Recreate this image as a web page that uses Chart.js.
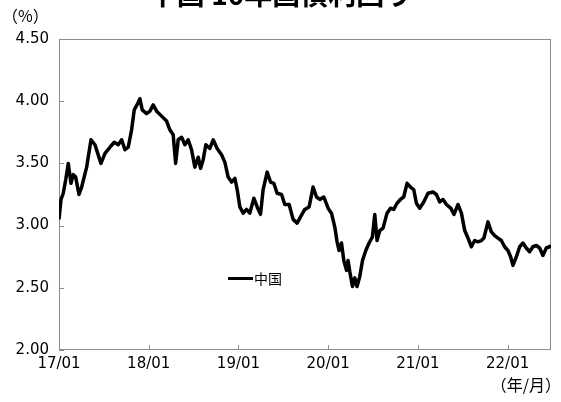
<!DOCTYPE html>
<html>
<head>
<meta charset="utf-8">
<script src="https://cdn.jsdelivr.net/npm/chart.js@4.4.1/dist/chart.umd.min.js"></script>
<style>
  html, body { margin: 0; padding: 0; background: #fff; overflow: hidden; }
  #wrap { position: relative; width: 561px; height: 402px; overflow: hidden; }
  #c { position: absolute; left: 0; top: 0; }
  .txt { position: absolute; color: #000; white-space: nowrap; font-family: "Noto Sans CJK JP", "DejaVu Sans", sans-serif; }
  #legend { position: absolute; left: 228px; top: 268px; display: flex; align-items: center; font-family: "Noto Sans CJK JP", sans-serif; font-size: 14px; }
  #legend .ln { width: 25px; height: 3px; background: #000; margin-right: 1px; }
</style>
</head>
<body>
<div id="wrap">
  <canvas id="c" width="561" height="402"></canvas>
  <div class="txt" style="left:0;width:561px;text-align:center;top:-27px;font-size:28px;font-weight:bold">中国 10年国債利回り</div>
  <div class="txt" style="left:2px;top:3px;font-size:16px">（%）</div>
  <div class="txt" style="right:0px;top:372px;font-size:16px">（年/月）</div>
  <div id="legend"><span class="ln"></span><span id="legendText"></span></div>
</div>
<script>
// series name
const seriesName = "中国";

// months since 2017/01, and 10y yield (%)
const months = [
  0, 0.27, 0.57, 0.9, 1.24, 1.6, 1.91, 2.23, 2.67, 3.03, 3.7, 4.28, 4.81, 5.61, 6.15, 6.82,
  7.39, 7.92, 8.38, 8.82, 9.26, 9.71, 10.06, 10.52, 10.82, 11.13, 11.72, 12.16, 12.6, 13.06,
  13.72, 14.39, 14.83, 15.27, 15.6, 15.94, 16.4, 16.84, 17.28, 17.73, 18.17, 18.62, 18.94,
  19.28, 19.64, 20.18, 20.62, 21.15, 21.74, 22.18, 22.62, 23.08, 23.52, 23.83, 24.19, 24.63,
  25.08, 25.52, 26.06, 26.5, 26.95, 27.3, 27.84, 28.29, 28.73, 29.17, 29.76, 30.2, 30.78,
  31.31, 31.85, 32.3, 32.87, 33.45, 33.98, 34.44, 34.88, 35.41, 35.99, 36.44, 36.88, 37.19,
  37.46, 37.78, 38.09, 38.45, 38.66, 38.89, 39.25, 39.56, 39.86, 40.22, 40.59, 41.03, 41.47,
  41.92, 42.23, 42.54, 42.9, 43.34, 43.87, 44.33, 44.77, 45.21, 45.66, 46.1, 46.55, 47.0,
  47.44, 47.8, 48.24, 48.78, 49.35, 50.02, 50.47, 50.92, 51.36, 51.81, 52.39, 52.83, 53.36,
  53.82, 54.26, 54.7, 55.15, 55.59, 56.03, 56.49, 56.83, 57.37, 57.82, 58.27, 58.71, 59.16,
  59.6, 60.04, 60.4, 60.71, 61.17, 61.61, 62.05, 62.5, 62.94, 63.38, 63.84, 64.28, 64.72,
  65.17, 65.61, 65.8
];
const yields = [
  3.05, 3.21, 3.26, 3.37, 3.50, 3.34, 3.41, 3.39, 3.25, 3.31, 3.47, 3.69, 3.65, 3.50, 3.58, 3.63,
  3.67, 3.65, 3.69, 3.61, 3.63, 3.77, 3.93, 3.98, 4.02, 3.93, 3.90, 3.92, 3.97, 3.92,
  3.88, 3.84, 3.77, 3.73, 3.50, 3.69, 3.71, 3.65, 3.69, 3.61, 3.47, 3.55, 3.46,
  3.53, 3.65, 3.62, 3.69, 3.62, 3.57, 3.51, 3.39, 3.35, 3.38, 3.29, 3.15, 3.10,
  3.13, 3.10, 3.22, 3.15, 3.09, 3.29, 3.43, 3.35, 3.34, 3.26, 3.25, 3.17, 3.17,
  3.05, 3.02, 3.07, 3.13, 3.15, 3.31, 3.23, 3.21, 3.23, 3.14, 3.10, 2.99, 2.87,
  2.80, 2.86, 2.72, 2.64, 2.72, 2.63, 2.51, 2.58, 2.51, 2.59, 2.72, 2.80, 2.86,
  2.91, 3.09, 2.88, 2.96, 2.98, 3.10, 3.14, 3.13, 3.18, 3.21, 3.23, 3.34, 3.31,
  3.29, 3.18, 3.14, 3.19, 3.26, 3.27, 3.25, 3.19, 3.21, 3.17, 3.14, 3.09, 3.17,
  3.10, 2.96, 2.90, 2.83, 2.88, 2.87, 2.88, 2.90, 3.03, 2.95, 2.92, 2.90, 2.88,
  2.83, 2.80, 2.75, 2.68, 2.75, 2.83, 2.86, 2.82, 2.79, 2.83, 2.84, 2.82, 2.76,
  2.82, 2.83, 2.84
];

// axis ticks
const xTickMonths = [0, 12, 24, 36, 48, 60];
const xTickLabels = ["17/01", "18/01", "19/01", "20/01", "21/01", "22/01"];
const yTicks = [2.0, 2.5, 3.0, 3.5, 4.0, 4.5];

document.getElementById("legendText").textContent = seriesName;

const tickFont = { family: "DejaVu Sans", size: 15 };
const frameColor = "#8c8c8c";

// plot box and the short inward tick marks
const framePlugin = {
  id: "frame",
  beforeDatasetsDraw(chart) {
    const { ctx, chartArea: a, scales: { x, y } } = chart;
    ctx.save();
    ctx.strokeStyle = frameColor;
    ctx.lineWidth = 1;
    ctx.strokeRect(a.left + 0.5, a.top + 0.5, a.right - a.left - 1, a.bottom - a.top - 1);
    ctx.beginPath();
    y.ticks.forEach(t => {
      const py = Math.round(y.getPixelForValue(t.value)) + 0.5;
      ctx.moveTo(a.left, py);
      ctx.lineTo(a.left + 5, py);
    });
    x.ticks.forEach(t => {
      const px = Math.round(x.getPixelForValue(t.value)) + 0.5;
      ctx.moveTo(px, a.bottom);
      ctx.lineTo(px, a.bottom - 5);
    });
    ctx.stroke();
    ctx.restore();
  }
};

new Chart(document.getElementById("c"), {
  type: "line",
  data: {
    datasets: [{
      label: seriesName,
      data: months.map((m, i) => ({ x: m, y: yields[i] })),
      borderColor: "#000",
      borderWidth: 3.5,
      pointRadius: 0,
      tension: 0,
      borderJoinStyle: "round",
    }],
  },
  options: {
    responsive: false,
    animation: false,
    layout: { padding: { left: 0, right: 10, top: 39, bottom: 0 } },
    plugins: {
      legend: { display: false },
      tooltip: { enabled: false },
    },
    scales: {
      x: {
        type: "linear",
        min: 0,
        max: 65.8,
        afterBuildTicks: s => { s.ticks = xTickMonths.map(v => ({ value: v })); },
        afterFit: s => { s.height = 52; },
        ticks: {
          color: "#000",
          font: tickFont,
          padding: 5,
          maxRotation: 0,
          autoSkip: false,
          callback: (v) => xTickLabels[xTickMonths.indexOf(v)],
        },
        grid: { display: false, drawTicks: false },
        border: { display: false },
      },
      y: {
        min: 2.0,
        max: 4.5,
        afterBuildTicks: s => { s.ticks = yTicks.map(v => ({ value: v })); },
        afterFit: s => { s.width = 59; },
        ticks: {
          color: "#000",
          font: tickFont,
          padding: 10,
          callback: (v) => v.toFixed(2),
        },
        grid: { display: false, drawTicks: false },
        border: { display: false },
      },
    },
  },
  plugins: [framePlugin],
});
</script>
</body>
</html>
